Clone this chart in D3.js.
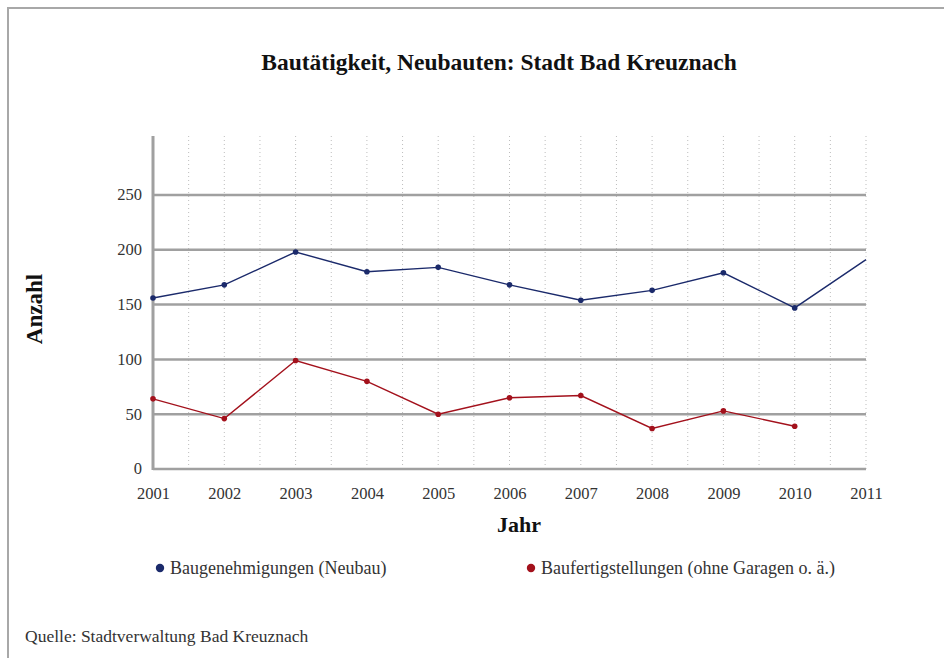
<!DOCTYPE html>
<html><head><meta charset="utf-8">
<script src="https://cdn.jsdelivr.net/npm/d3@7"></script>
<style>html,body{margin:0;padding:0;background:#fff;}svg{display:block;}</style>
</head><body>
<svg id="c" width="944" height="658"></svg>
<script>
const years = [2001,2002,2003,2004,2005,2006,2007,2008,2009,2010,2011];
const baugenehmigungen = [156,168,198,180,184,168,154,163,179,147,191];
const baufertigstellungen = [64,46,99,80,50,65,67,37,53,39,null];
const yTicks = [0,50,100,150,200,250];
const seriesNames = ["Baugenehmigungen (Neubau)","Baufertigstellungen (ohne Garagen o. ä.)"];
const seriesColors = ["#1b2a6b","#a3111c"];

const svg = d3.select("#c");
const font = "'Liberation Serif','DejaVu Serif',serif";
// frame
svg.append("rect").attr("x",8).attr("y",8).attr("width",960).attr("height",700)
  .attr("fill","none").attr("stroke","#a8a8a8").attr("stroke-width",2);

const L=153, R=866, T=136, B=469;
const x = d3.scaleLinear().domain([2001,2011]).range([L,R]);
const y = d3.scaleLinear().domain([0,250]).range([B,195]);

// dotted vertical grid (half-year)
const halfSteps = d3.range(2001.5, 2011.01, 0.5);
svg.append("g").selectAll("line").data(halfSteps).join("line")
  .attr("x1",d=>x(d)).attr("x2",d=>x(d)).attr("y1",T).attr("y2",B)
  .attr("stroke","#bdbdbd").attr("stroke-width",1).attr("stroke-dasharray","1,3");

// horizontal grid
svg.append("g").selectAll("line").data(yTicks).join("line")
  .attr("x1",L).attr("x2",R).attr("y1",d=>y(d)).attr("y2",d=>y(d))
  .attr("stroke","#a0a0a0").attr("stroke-width",2.5);

// y axis line
svg.append("line").attr("x1",L).attr("x2",L).attr("y1",T).attr("y2",B+1)
  .attr("stroke","#a0a0a0").attr("stroke-width",3);

// y labels
const yAxis = d3.axisLeft(y).tickValues(yTicks).tickSize(0).tickPadding(11);
const gy = svg.append("g").attr("transform",`translate(${L},0)`).call(yAxis).attr("font-family",font);
gy.select(".domain").remove();
gy.selectAll("text").style("font-family",font).style("font-size","16.5px").attr("fill","#333").attr("dy","0.3em");

// x labels
const xAxis = d3.axisBottom(x).tickValues(years).tickFormat(d3.format("d")).tickSize(0).tickPadding(18);
const gx = svg.append("g").attr("transform",`translate(0,${B})`).call(xAxis).attr("font-family",font);
gx.select(".domain").remove();
gx.selectAll("text").style("font-family",font).style("font-size","16.5px").attr("fill","#333");

// clip
svg.append("clipPath").attr("id","clipDots").append("rect").attr("x",L-5).attr("y",T-10).attr("width",R-L+2).attr("height",B-T+20);

const series = [baugenehmigungen, baufertigstellungen];
series.forEach((vals,i)=>{
  const pts = years.map((yr,j)=>({yr,v:vals[j]})).filter(d=>d.v!=null);
  const line = d3.line().x(d=>x(d.yr)).y(d=>y(d.v));
  svg.append("path").datum(pts).attr("d",line).attr("fill","none")
    .attr("stroke",seriesColors[i]).attr("stroke-width",1.4);
  svg.append("g").attr("clip-path","url(#clipDots)").selectAll("circle").data(pts.filter(d=>d.yr<2011)).join("circle")
    .attr("cx",d=>x(d.yr)).attr("cy",d=>y(d.v)).attr("r",2.8).attr("fill",seriesColors[i]);
});

// title
svg.append("text").attr("x",499).attr("y",70).attr("text-anchor","middle")
  .style("font-family",font).attr("font-weight","bold").style("font-size","23.5px").attr("fill","#111")
  .text("Bautätigkeit, Neubauten: Stadt Bad Kreuznach");

// axis titles
svg.append("text").attr("transform","translate(42,309) rotate(-90)").attr("text-anchor","middle")
  .style("font-family",font).attr("font-weight","bold").style("font-size","23px").attr("fill","#111").text("Anzahl");
svg.append("text").attr("x",519).attr("y",532).attr("text-anchor","middle")
  .style("font-family",font).attr("font-weight","bold").style("font-size","22px").attr("fill","#111").text("Jahr");

// legend
const legX = [160, 531];
seriesNames.forEach((n,i)=>{
  svg.append("circle").attr("cx",legX[i]).attr("cy",568).attr("r",4.2).attr("fill",seriesColors[i]);
  svg.append("text").attr("x",legX[i]+10).attr("y",574).style("font-family",font).style("font-size","18px")
    .attr("fill","#333").text(n);
});

// source
svg.append("text").attr("x",25).attr("y",642).style("font-family",font).style("font-size","17.5px")
  .attr("fill","#333").text("Quelle: Stadtverwaltung Bad Kreuznach");
</script>
</body></html>
